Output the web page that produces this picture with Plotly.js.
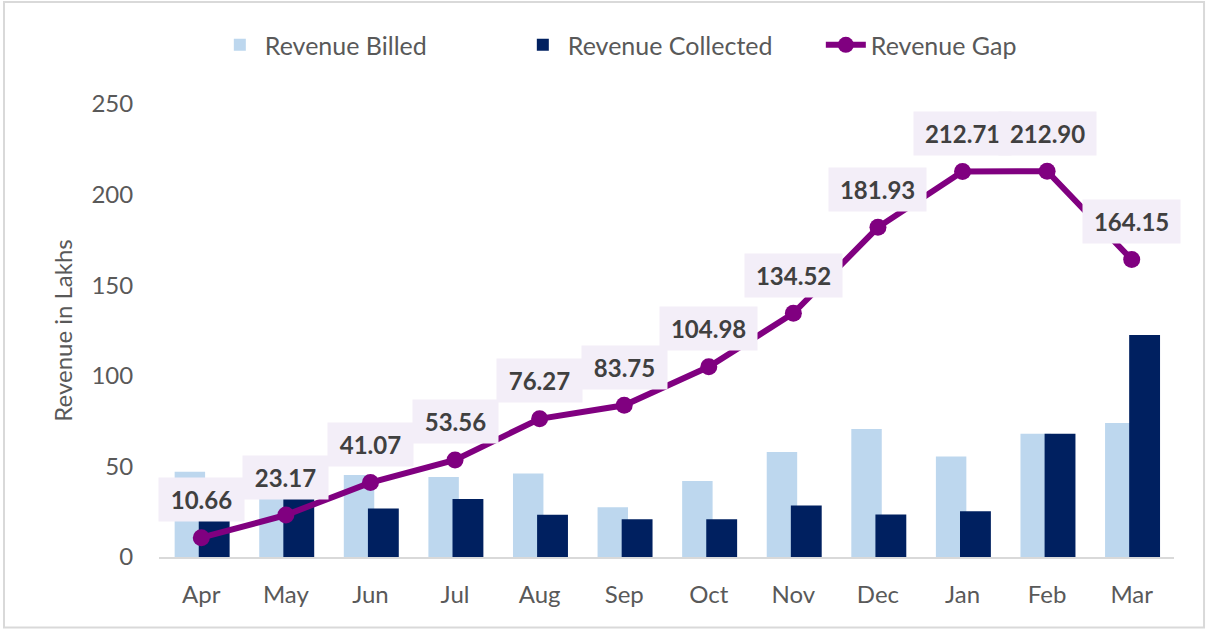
<!DOCTYPE html>
<html>
<head>
<meta charset="utf-8">
<script src="https://cdn.plot.ly/plotly-3.0.1.min.js"></script>
<style>html,body{margin:0;padding:0;background:#fff;}#chart{width:1207px;height:631px;}</style>
</head>
<body>
<div id="chart"></div>
<script>
const months = ["Apr","May","Jun","Jul","Aug","Sep","Oct","Nov","Dec","Jan","Feb","Mar"];
const revenueBilled = [47.0, 34.0, 45.2, 44.2, 46.1, 27.5, 41.9, 57.9, 70.6, 55.5, 68.0, 73.9];
const revenueCollected = [20.0, 32.0, 26.8, 32.0, 23.3, 20.9, 20.9, 28.4, 23.4, 25.2, 68.0, 122.5];
const revenueGap = [10.66, 23.17, 41.07, 53.56, 76.27, 83.75, 104.98, 134.52, 181.93, 212.71, 212.90, 164.15];
const yTicks = [0, 50, 100, 150, 200, 250];

const FONT = "Lato, 'Open Sans', sans-serif";

const traces = [
  {
    type: "bar", name: "Revenue Billed", x: months, y: revenueBilled,
    marker: {color: "#bdd7ee"}, offset: -0.315, width: 0.36, hoverinfo: "skip"
  },
  {
    type: "bar", name: "Revenue Collected", x: months, y: revenueCollected,
    marker: {color: "#002060"}, offset: -0.03, width: 0.365, hoverinfo: "skip"
  },
  {
    type: "scatter", mode: "lines+markers", name: "Revenue Gap", x: months, y: revenueGap,
    line: {color: "#800080", width: 6}, marker: {color: "#800080", size: 17}, hoverinfo: "skip"
  }
];

const annotations = months.map((m, i) => {
  const t = revenueGap[i].toFixed(2);
  return {
    x: m, y: revenueGap[i], xref: "x", yref: "y",
    text: "<b>" + t + "</b>",
    showarrow: false, yshift: 38,
    width: t.length * 12.2 + 24, height: 43, borderpad: 0,
    bgcolor: "#f3eef8",
    font: {family: FONT, size: 24, color: "#404040"}
  };
});

const layout = {
  width: 1207, height: 631,
  margin: {l: 159, r: 33, t: 104, b: 73.5, autoexpand: false},
  paper_bgcolor: "#ffffff", plot_bgcolor: "#ffffff",
  barmode: "overlay",
  font: {family: FONT, color: "#595959"},
  showlegend: true,
  legend: {
    orientation: "h", x: 0.055, xanchor: "left", y: 1.13, yanchor: "middle",
    font: {family: FONT, size: 25, color: "#595959"}, itemwidth: 40,
    entrywidth: 248, entrywidthmode: "pixels"
  },
  xaxis: {
    type: "category", categoryarray: months, range: [-0.5, 11.5],
    showline: true, linecolor: "#d9d9d9", linewidth: 2,
    showgrid: false, zeroline: false,
    ticks: "outside", ticklen: 15, tickcolor: "rgba(0,0,0,0)",
    tickfont: {family: FONT, size: 24, color: "#595959"}
  },
  yaxis: {
    range: [0, 250], tickvals: yTicks, ticktext: yTicks.map(String),
    showline: false, showgrid: false, zeroline: false,
    ticks: "outside", ticklen: 20, tickcolor: "rgba(0,0,0,0)",
    tickfont: {family: FONT, size: 24, color: "#595959"},
    title: {text: "Revenue in Lakhs", font: {family: FONT, size: 24, color: "#595959"}, standoff: 12}
  },
  annotations: annotations,
  shapes: [{
    type: "rect", xref: "paper", yref: "paper",
    x0: -0.1527, x1: 1.0296, y0: -0.1555, y1: 1.2249,
    line: {color: "#d9d9d9", width: 2}
  }]
};

Plotly.newPlot("chart", traces, layout, {displayModeBar: false, staticPlot: true});
</script>
</body>
</html>
